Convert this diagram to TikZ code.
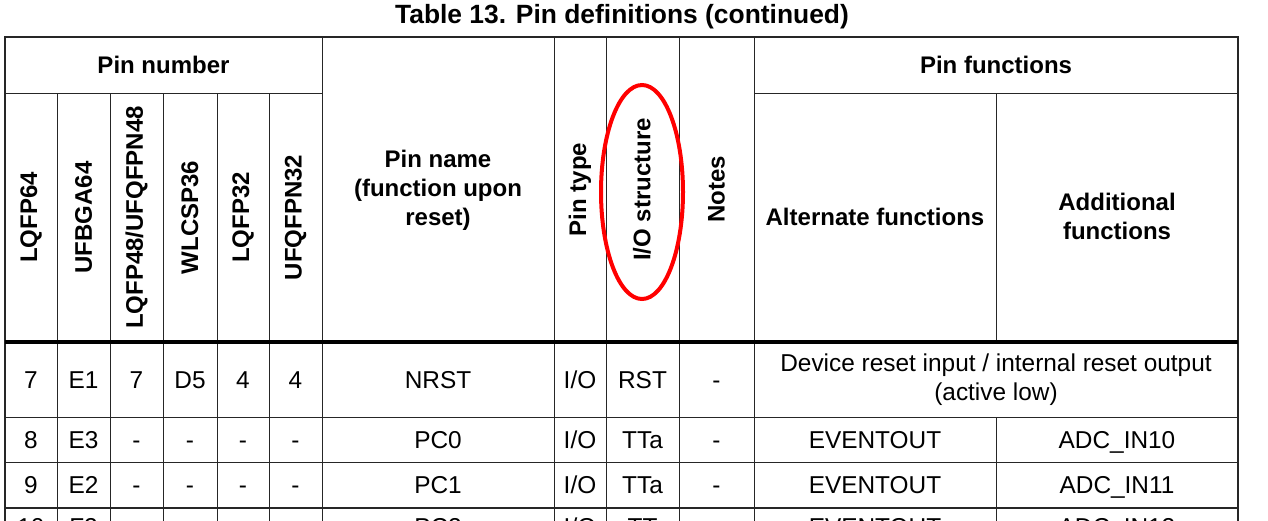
\documentclass[tikz,border=0pt]{standalone}
\usepackage{fontspec}
\setmainfont{Liberation Sans}
\usetikzlibrary{shapes.geometric}

\begin{document}
\begin{tikzpicture}[x=0.5pt,y=-0.5pt]
\tikzstyle{grid} = [draw=black!85, line width=0.5pt]
\tikzstyle{rule} = [draw=black, line width=2pt]
\tikzstyle{cell} = [font=\fontsize{12.2pt}{14.5pt}\selectfont, inner sep=0pt, text height=8.7pt, text depth=0pt]
\tikzstyle{multi} = [font=\fontsize{12.2pt}{14.5pt}\selectfont, inner sep=0pt, align=center]
\tikzstyle{head} = [font=\fontsize{12pt}{14.5pt}\selectfont\bfseries, inner sep=0pt, align=center]
\tikzstyle{vhead} = [head, rotate=90]
\tikzstyle{ring} = [draw=red, line width=2pt, ellipse, minimum width=41pt, minimum height=107pt, inner sep=0pt]

\useasboundingbox (0,0) rectangle (1268,520);

% Title
\node[font=\fontsize{13.2pt}{16pt}\selectfont\bfseries, inner sep=0pt] (title) at (622,17) {Table 13. Pin definitions (continued)};

% Table lines
\draw[grid, line width=0.7pt] (5,560) -- (5,37) -- (1238,37) -- (1238,560);
\foreach \x in {57,110,163,217,269} \draw[grid] (\x,93) -- (\x,560);
\foreach \x in {322,554,606,679,754} \draw[grid] (\x,37) -- (\x,560);
\draw[grid] (996,93) -- (996,342);
\draw[grid] (996,417) -- (996,560);
\draw[grid] (5,93) -- (322,93);
\draw[grid] (754,93) -- (1238,93);
\draw[rule] (5,342) -- (1238,342);
\foreach \y in {417,462} \draw[grid] (5,\y) -- (1238,\y);
\draw[grid, line width=1pt] (5,507.5) -- (1238,507.5);

% Header
\node[head] (pinnum) at (163.5,65) {Pin number};
\node[head] (pinfunc) at (996,65) {Pin functions};
\foreach \x/\t [count=\i] in {31/LQFP64, 83.5/UFBGA64, 136.5/{LQFP48/UFQFPN48}, 190/WLCSP36, 243/LQFP32, 295.5/UFQFPN32}
  \node[vhead] (pkg\i) at (\x,217.5) {\t};
\node[head] (pname) at (438,190) {Pin name\\(function upon\\reset)};
\node[vhead] (ptype) at (580,189.5) {Pin type};
\node[vhead] (iostruct) at (642,189.5) {I/O structure};
\node[vhead] (notes) at (716.5,189.5) {Notes};
\node[head] (altfunc) at (875,217) {Alternate functions};
\node[head] (addfunc) at (1117,216.5) {Additional\\functions};
\node[ring] (mark) at (642,192) {};

% Rows
\foreach \x/\t [count=\i] in {31/7, 83.5/E1, 136.5/7, 190/D5, 243/4, 295.5/4, 438/NRST, 580/{I/O}, 642.5/RST, 716.5/-}
  \node[cell] (nrst\i) at (\x,379.5) {\t};
\node[multi] (nrstfunc) at (996,380) {Device reset input / internal reset output\\(active low)};
\foreach \x/\t [count=\i] in {31/8, 83.5/E3, 136.5/-, 190/-, 243/-, 295.5/-, 438/PC0, 580/{I/O}, 642.5/TTa, 716.5/-, 875/EVENTOUT, 1117/ADC\_IN10}
  \node[cell] (pczero\i) at (\x,439.5) {\t};
\foreach \x/\t [count=\i] in {31/9, 83.5/E2, 136.5/-, 190/-, 243/-, 295.5/-, 438/PC1, 580/{I/O}, 642.5/TTa, 716.5/-, 875/EVENTOUT, 1117/ADC\_IN11}
  \node[cell] (pcone\i) at (\x,484.5) {\t};
% cut off at the bottom
\foreach \x/\t [count=\i] in {31/10, 83.5/F2, 136.5/-, 190/-, 243/-, 295.5/-, 438/PC2, 580/{I/O}, 642.5/TT, 716.5/-, 875/EVENTOUT, 1117/ADC\_IN12}
  \node[cell] (pctwo\i) at (\x,527) {\t};
\end{tikzpicture}
\end{document}
